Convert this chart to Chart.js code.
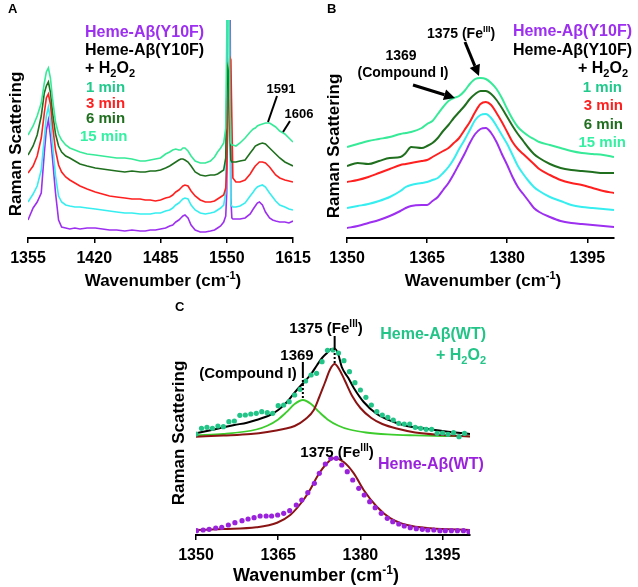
<!DOCTYPE html>
<html><head><meta charset="utf-8">
<script src="https://cdn.jsdelivr.net/npm/chart.js@4.4.1/dist/chart.umd.min.js"></script>
<style>
html,body{margin:0;padding:0;background:#fff;}
body{width:638px;height:587px;position:relative;overflow:hidden;}
canvas{position:absolute;}
</style></head>
<body>
<canvas id="cA" width="318" height="295" style="left:0px;top:0px"></canvas>
<canvas id="cB" width="320" height="295" style="left:318px;top:0px"></canvas>
<canvas id="cC" width="420" height="297" style="left:100px;top:290px"></canvas>
<script>
// ---------------- Panel A data ----------------
const wnA = [1355,1360,1364,1368,1371,1373,1375,1377,1379,1382,
 1385,1388,1392,1396,1401,1406,1413,1421,1428,1435,
 1442,1450,1457,1465,1470,1475,1480,1485,1490,1494,
 1497,1500,1503,1505,1507,1509,1512,1515,1519,1524,
 1529,1534,1538,1541,1544,1547,1549,1550,1551,1552,
 1553,1554,1555,1556,1559,1563,1568,1573,1576,1578,
 1580,1582,1585,1588,1592,1595,1598,1602,1607,1611,1615];
const a_heme = [18,30,36,45,85,108,118,102,80,45,
 18,11,10,9,10,9,10,10,9,8,
 8,7,8,7,7,8,8,9,10,12,
 13,16,18,20,22,23,20,13,8,6,
 6,7,8,10,12,16,22,45,250,330,
 330,40,20,19,19,19,20,24,29,32,
 35,36,33,26,20,18,17,16,16,15,17];
const a_1min = [36,44,52,68,100,122,131,118,95,62,
 42,36,33,32,31,31,30,29,28,27,
 26,25,25,24,24,24,25,25,27,28,
 30,33,35,37,39,40,39,33,28,25,
 24,25,26,28,30,33,45,150,330,330,
 120,34,32,31,31,32,35,42,46,49,
 51,52,53,51,45,41,37,33,31,29,28];
const a_3min = [65,72,82,100,125,140,144,134,113,88,
 73,66,61,58,55,52,49,46,44,42,
 41,40,39,39,38,38,37,38,40,41,
 43,46,48,50,52,53,52,47,42,38,
 36,36,37,39,41,43,50,70,110,160,
 181,178,120,60,56,56,58,64,69,72,
 74,76,76,75,71,67,63,60,58,57,56];
const a_6min = [83,92,103,122,145,152,156,146,126,104,
 92,86,82,80,77,74,72,70,69,68,
 67,66,67,66,66,67,67,68,70,72,
 74,76,78,79,79,78,76,72,66,63,
 62,63,63,64,66,68,80,140,170,165,
 110,78,76,76,76,77,78,85,89,92,
 93,94,95,94,90,87,84,80,76,74,72];
const a_15min = [103,112,122,135,155,166,170,160,140,116,
 104,98,93,90,88,86,84,83,82,81,
 80,80,79,77,77,78,79,80,84,86,
 88,89,88,88,90,90,87,82,77,75,
 75,77,81,86,90,95,110,200,330,330,
 140,95,93,93,92,95,100,106,109,110,
 112,113,114,115,115,113,111,107,104,100,96];
const ticksA = [1355,1420,1485,1550,1615];

// ---------------- Panel B data ----------------
const wnB = [1350,1352,1354,1356,1358,1360,1361,1362,1364,1365,
 1366,1367,1368,1369,1370,1371,1372,1373,1374,1375,
 1376,1377,1378,1379,1380,1381,1382,1383,1384,1385,
 1386,1388,1390,1392,1394,1396,1398,1400];
const b_heme = [10,12,15,18,22,27,30,32,33,33,
 37,41,48,55,64,74,84,95,104,109,
 110,105,96,84,73,61,51,44,37,30,
 26,21,17,15,14,13,12,11];
const b_1min = [30,32,34,37,41,47,51,53,55,56,
 58,60,65,71,79,89,98,108,118,123,
 124,120,112,103,94,83,72,64,57,51,
 47,41,37,33,31,30,29,28];
const b_3min = [56,58,61,65,69,73,74,75,77,78,
 81,84,87,90,95,100,108,116,126,134,
 136,133,125,116,106,96,89,84,79,74,
 69,63,58,55,53,50,47,45];
const b_6min = [72,75,74,77,80,81,85,91,90,92,
 95,100,107,113,120,126,132,139,144,147,
 147,144,138,130,121,112,104,97,90,84,
 80,74,70,68,67,66,65,65];
const b_15min = [91,94,97,99,101,104,105,106,110,114,
 117,124,131,137,140,142,147,154,159,160,
 159,155,149,140,129,119,111,106,102,99,
 96,93,90,87,85,84,83,81];
const ticksB = [1350,1365,1380,1395];

// ---------------- Panel C data ----------------
const wnC_h2o2Dots = [1350,1351,1352,1353,1354,1355,1356,1357,1358,1359,
 1360,1361,1362,1363,1364,1365,1366,1367,1368,1369,
 1370,1371,1372,1373,1374,1375,1376,1377,1378,1379,
 1380,1381,1382,1383,1384,1385,1386,1387,1388,1389,
 1390,1391,1392,1393,1394,1395,1396,1397,1398,1399];
const c_h2o2Dots = [101,106.7,107.7,106.7,109,108.3,113.3,114,119.7,120,
 121,121.7,123.3,122.3,121.7,129.3,130,133.3,140,145.7,
 154,160,161.7,173.3,184.7,185,182,174.3,163.3,152.3,
 145,137.7,130,123.3,120,117.7,115,111.7,111,111,
 107.7,106.7,105.7,105.7,101.7,102,100.7,102.3,98.3,101.7];
const wnC_sum = [1350,1352,1355,1357,1359.3,1361,1363.5,1365,1366.6,1368.4,1369.9,1371,1372.1,1373,1373.9,1374.7,1375.4,1376,1376.6,1377.8,1378.8,1380.6,1383,1386.1,1388.5,1391,1395,1400];
const c_sum = [101.7,104,107.7,110,112.3,115,120,125,133,145,154,161,170,177,182,186,186,180,168,157,147,133,121,113,109,107,104,101];
const wnC_cpdI = [1350,1355,1361,1363,1365,1366.5,1368,1369.5,1371,1372.5,1374,1376,1378,1381,1385,1390,1395,1400];
const c_cpdI = [99.7,101,105.5,109.3,115.6,122.8,131,135,131,122.8,115.6,109.3,105.5,102.5,100.6,99.6,99,98.7];
const wnC_fe = [1350,1355,1360,1363,1366,1368,1370,1371.5,1372.5,1373.5,1374.5,1375.3,1376.2,1377.2,1378.5,1380,1382,1384,1387,1390,1395,1400];
const c_fe = [98.3,99.5,101,103,106,109,116,125,138,152,166,171,165,154,139,127,117,111,106,102.5,100,98.5];
const wnC_wtDots = [1350.1,1351.3,1352.4,1353.6,1354.7,1355.9,1357.1,1358.4,1359.5,1360.6,
 1361.7,1362.8,1363.8,1364.9,1366,1367.1,1368.3,1369.3,1370.4,1371.6,
 1372.5,1373.6,1374.6,1375.6,1376.6,1377.6,1378.6,1379.7,1380.7,1381.7,
 1382.7,1383.8,1384.9,1385.9,1387,1388,1389.1,1390.2,1391.3,1392.3,
 1393.4,1394.5,1395.5,1396.6,1397.7,1398.8,1399.8];
const c_wtDots = [4.3,5,5.7,7,7.7,10,12.3,14.3,16,17.3,
 19,19,19,20,21.7,24.3,30,35,42.3,51.7,
 61.7,71,76.7,76.7,70,63.3,55,46.7,40,33.3,
 27.3,21.7,16.7,13.3,11,9,7.3,6.3,5.7,5,
 5,4.3,4.3,4.3,4.3,4.3,3.3];
const wnC_wtFit = [1350,1355,1361,1364.8,1367.2,1369.6,1371,1372.1,1373.9,1375.2,1376.9,1378.8,1380.6,1383,1385.5,1388.5,1392.8,1400];
const c_wtFit = [5,6,7.7,12.3,20,35,47,58.3,71.7,76.7,73.3,61.7,45,28.3,16.7,10,6.7,5];
const ticksC = [1350,1365,1380,1395];

// ---------------- colours ----------------
const COL = {purple:'#9d2ff0', cyan:'#36eef0', red:'#ff1f1f', dkgreen:'#1f6f1f', mint:'#36ea98',
  lbl1:'#22c98c', lbl15:'#35f0a2', wtGreen:'#22c488', fitGreen:'#3ccc2c', maroon:'#8a1414', wtPurple:'#9a22dc'};
const FAM = '"Liberation Sans", Arial, Helvetica, sans-serif';

// ---------------- helpers ----------------
const xy = (xs, ys) => xs.map((x, i) => ({x: x, y: ys[i]}));
function drawRich(ctx, str, x, y, size, color, align) {
  const parts = []; const re = /\{([_^])([^}]*)\}/g; let last = 0, m;
  while ((m = re.exec(str))) {
    if (m.index > last) parts.push({t: str.slice(last, m.index), k: 0});
    parts.push({t: m[2], k: m[1] === '^' ? 1 : -1}); last = re.lastIndex;
  }
  if (last < str.length) parts.push({t: str.slice(last), k: 0});
  const small = Math.round(size * 0.66);
  let w = 0;
  parts.forEach(p => { ctx.font = 'bold ' + (p.k ? small : size) + 'px ' + FAM; p.w = ctx.measureText(p.t).width; w += p.w; });
  let cx = align === 'center' ? x - w / 2 : (align === 'right' ? x - w : x);
  const base = y + size * 0.36;
  ctx.save(); ctx.fillStyle = color; ctx.textAlign = 'left'; ctx.textBaseline = 'alphabetic';
  parts.forEach(p => {
    ctx.font = 'bold ' + (p.k ? small : size) + 'px ' + FAM;
    const dy = p.k === 1 ? -size * 0.4 : (p.k === -1 ? size * 0.25 : 0);
    ctx.fillText(p.t, cx, base + dy); cx += p.w;
  });
  ctx.restore();
}
function drawRot(ctx, str, x, y, size, color) {
  ctx.save(); ctx.translate(x, y); ctx.rotate(-Math.PI / 2);
  drawRich(ctx, str, 0, 0, size, color, 'center'); ctx.restore();
}
function line(ctx, x1, y1, x2, y2, w, dash) {
  ctx.save(); ctx.strokeStyle = '#000'; ctx.lineWidth = w; if (dash) ctx.setLineDash(dash);
  ctx.beginPath(); ctx.moveTo(x1, y1); ctx.lineTo(x2, y2); ctx.stroke(); ctx.restore();
}
function arrow(ctx, x1, y1, x2, y2, w, head) {
  const a = Math.atan2(y2 - y1, x2 - x1), hw = head * 0.5;
  const bx = x2 - head * Math.cos(a), by = y2 - head * Math.sin(a);
  line(ctx, x1, y1, bx, by, w);
  ctx.save(); ctx.fillStyle = '#000'; ctx.beginPath(); ctx.moveTo(x2, y2);
  ctx.lineTo(bx - hw * Math.sin(a), by + hw * Math.cos(a));
  ctx.lineTo(bx + hw * Math.sin(a), by - hw * Math.cos(a)); ctx.closePath(); ctx.fill(); ctx.restore();
}
function xAxis(min, max, ticks, height) {
  return {
    type: 'linear', min: min, max: max,
    afterBuildTicks: s => { s.ticks = ticks.map(v => ({value: v})); },
    afterFit: s => { s.height = height; },
    grid: {display: true, drawOnChartArea: false, drawTicks: true, tickLength: 5, color: '#000', lineWidth: 1.5},
    border: {display: true, color: '#000', width: 2},
    ticks: {color: '#000', font: {family: FAM, size: 16, weight: 'bold'}, padding: 6, maxRotation: 0, autoSkip: false, callback: v => String(v)},
    title: {display: false}
  };
}
function lineDs(data, color, w, tension) {
  return {data: data, borderColor: color, backgroundColor: color, borderWidth: w, pointRadius: 0, fill: false,
    tension: tension || 0, cubicInterpolationMode: tension ? 'monotone' : 'default'};
}
function dotDs(data, color) {
  return {data: data, showLine: false, pointRadius: 2.6, pointBorderWidth: 0, pointBackgroundColor: color, borderColor: color, backgroundColor: color};
}
function make(id, off, datasets, pad, xa, ymax, draw) {
  return new Chart(document.getElementById(id), {
    type: 'line',
    data: {datasets: datasets},
    options: {
      responsive: false, animation: false, devicePixelRatio: 1, parsing: true,
      layout: {padding: pad},
      plugins: {legend: {display: false}, tooltip: {enabled: false}},
      scales: {x: xa, y: {display: false, min: 0, max: ymax}}
    },
    plugins: [{id: 'ann', afterDraw(chart) {
      const ctx = chart.ctx; ctx.save(); ctx.translate(-off[0], -off[1]);
      draw(ctx, chart, v => chart.scales.x.getPixelForValue(v) + off[0]);
      ctx.restore();
    }}]
  });
}

// ---------------- Panel A ----------------
make('cA', [0, 0], [
  lineDs(xy(wnA, a_15min), COL.mint, 1.6),
  lineDs(xy(wnA, a_6min), COL.dkgreen, 1.6),
  lineDs(xy(wnA, a_3min), COL.red, 1.6),
  lineDs(xy(wnA, a_1min), COL.cyan, 1.6),
  lineDs(xy(wnA, a_heme), COL.purple, 1.6)
], {left: 28, right: 25, top: 20, bottom: 0}, xAxis(1355, 1615, ticksA, 57), 218, (ctx) => {
  drawRich(ctx, 'A', 8, 8, 13, '#000', 'left');
  drawRich(ctx, 'Heme-Aβ(Y10F)', 85, 31, 16, COL.purple, 'left');
  drawRich(ctx, 'Heme-Aβ(Y10F)', 85, 49, 16, '#000', 'left');
  drawRich(ctx, '+ H{_2}O{_2}', 85, 67, 16, '#000', 'left');
  drawRich(ctx, '1 min', 86, 87, 15, COL.lbl1, 'left');
  drawRich(ctx, '3 min', 86, 103, 15, COL.red, 'left');
  drawRich(ctx, '6 min', 86, 118, 15, COL.dkgreen, 'left');
  drawRich(ctx, '15 min', 80, 136, 15, COL.lbl15, 'left');
  drawRich(ctx, '1591', 281, 88, 13, '#000', 'center');
  line(ctx, 277, 96, 268, 122, 2);
  drawRich(ctx, '1606', 299, 113, 13, '#000', 'center');
  line(ctx, 290, 121, 283, 132, 2);
  drawRot(ctx, 'Raman Scattering', 15, 144, 17, '#000');
  drawRich(ctx, 'Wavenumber (cm{^-1})', 163, 280, 17, '#000', 'center');
});

// ---------------- Panel B ----------------
make('cB', [318, 0], [
  lineDs(xy(wnB, b_15min), COL.mint, 2, 0.4),
  lineDs(xy(wnB, b_6min), COL.dkgreen, 2, 0.4),
  lineDs(xy(wnB, b_3min), COL.red, 2, 0.4),
  lineDs(xy(wnB, b_1min), COL.cyan, 2, 0.4),
  lineDs(xy(wnB, b_heme), COL.purple, 2, 0.4)
], {left: 29, right: 24, top: 20, bottom: 0}, xAxis(1350, 1400, ticksB, 57), 218, (ctx) => {
  drawRich(ctx, 'B', 327, 8, 13, '#000', 'left');
  drawRich(ctx, '1375 (Fe{^III})', 461, 33, 14, '#000', 'center');
  arrow(ctx, 465, 42, 479, 76, 3, 11);
  drawRich(ctx, '1369', 401, 55, 14, '#000', 'center');
  drawRich(ctx, '(Compound I)', 403, 72, 14, '#000', 'center');
  arrow(ctx, 413, 85, 455, 98, 3, 11);
  drawRich(ctx, 'Heme-Aβ(Y10F)', 632, 30, 16, COL.purple, 'right');
  drawRich(ctx, 'Heme-Aβ(Y10F)', 632, 49, 16, '#000', 'right');
  drawRich(ctx, '+ H{_2}O{_2}', 628, 67, 16, '#000', 'right');
  drawRich(ctx, '1 min', 622, 87, 15, COL.lbl1, 'right');
  drawRich(ctx, '3 min', 623, 105, 15, COL.red, 'right');
  drawRich(ctx, '6 min', 623, 124, 15, COL.dkgreen, 'right');
  drawRich(ctx, '15 min', 626, 142, 15, COL.lbl15, 'right');
  drawRot(ctx, 'Raman Scattering', 333, 146, 17, '#000');
  drawRich(ctx, 'Wavenumber (cm{^-1})', 483, 280, 17, '#000', 'center');
});

// ---------------- Panel C ----------------
make('cC', [100, 290], [
  dotDs(xy(wnC_h2o2Dots, c_h2o2Dots), COL.wtGreen),
  dotDs(xy(wnC_wtDots, c_wtDots), COL.wtPurple),
  lineDs(xy(wnC_sum, c_sum), '#000', 2, 0.4),
  lineDs(xy(wnC_fe, c_fe), COL.maroon, 2, 0.4),
  lineDs(xy(wnC_cpdI, c_cpdI), COL.fitGreen, 1.8, 0.4),
  lineDs(xy(wnC_wtFit, c_wtFit), COL.maroon, 2, 0.4)
], {left: 96, right: 50, top: 40, bottom: 0}, xAxis(1350, 1400, ticksC, 52), 205, (ctx, chart, px) => {
  drawRich(ctx, 'C', 175, 306, 13, '#000', 'left');
  const xFe = px(1375.3), xCI = px(1369.5);
  drawRich(ctx, '1375 (Fe{^III})', 326, 328, 15, '#000', 'center');
  line(ctx, xFe, 336, xFe, 350, 2);
  line(ctx, xFe, 353, xFe, 364, 2, [2, 2]);
  drawRich(ctx, '1369', 297, 355, 15, '#000', 'center');
  drawRich(ctx, '(Compound I)', 248, 373, 15, '#000', 'center');
  line(ctx, xCI, 362, xCI, 378, 2);
  line(ctx, xCI, 380, xCI, 400, 2, [2, 2]);
  drawRich(ctx, 'Heme-Aβ(WT)', 486, 333, 16, COL.wtGreen, 'right');
  drawRich(ctx, '+ H{_2}O{_2}', 486, 354, 16, COL.wtGreen, 'right');
  drawRich(ctx, '1375 (Fe{^III})', 337, 452, 15, '#000', 'center');
  drawRich(ctx, 'Heme-Aβ(WT)', 378, 463, 16, COL.wtPurple, 'left');
  drawRot(ctx, 'Raman Scattering', 178, 433, 17, '#000');
  drawRich(ctx, 'Wavenumber (cm{^-1})', 316, 575, 18, '#000', 'center');
});
</script>
</body></html>
